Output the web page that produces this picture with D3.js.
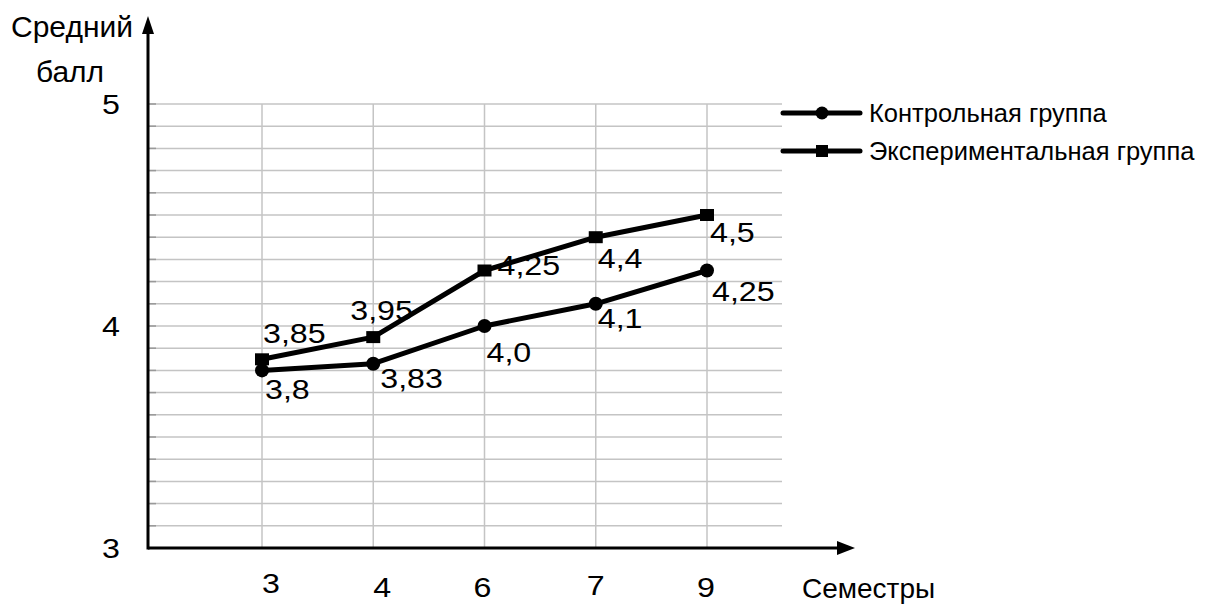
<!DOCTYPE html>
<html>
<head>
<meta charset="utf-8">
<script src="https://cdn.jsdelivr.net/npm/d3@7/dist/d3.min.js"></script>
<style>
  html, body { margin: 0; padding: 0; background: #fff; }
  svg text { font-family: "Liberation Sans", Arial, sans-serif; fill: #000; }
</style>
</head>
<body>
<svg id="chart" width="1207" height="605"></svg>
<script>
// Semesters and average scores
const semesters = ["3", "4", "6", "7", "9"];
const controlScores = [3.8, 3.83, 4.0, 4.1, 4.25];
const experimentalScores = [3.85, 3.95, 4.25, 4.4, 4.5];
const controlLabels = ["3,8", "3,83", "4,0", "4,1", "4,25"];
const experimentalLabels = ["3,85", "3,95", "4,25", "4,4", "4,5"];
const yTickValues = [3, 4, 5];
const seriesNames = ["Контрольная группа", "Экспериментальная группа"];

// Label placement (dx, baseline dy) relative to each point
const controlLabelOffsets = [[3, 29], [7, 24], [2, 36], [2, 24], [5, 30]];
const experimentalLabelOffsets = [[1, -16], [-23, -17], [13, 4], [2, 31], [3, 27]];
const xLabelShift = [[9, 45], [9, 49], [-2, 49], [0, 47], [-1, 49]];

const svg = d3.select("#chart");
const axisX = 148, axisY = 548, gridTop = 104, gridRight = 782;
const digitScale = 1.15;   // digits are drawn slightly wide
const digitSize = 28;

const x = d3.scalePoint().domain(semesters).range([262, 707]);
const y = d3.scaleLinear().domain([3, 5]).range([axisY, gridTop]);

// Horizontal gridlines every 0.1
const minorTicks = d3.range(31, 51).map(v => v / 10);
svg.append("g").selectAll("line").data(minorTicks).join("line")
  .attr("x1", axisX).attr("x2", gridRight)
  .attr("y1", d => y(d)).attr("y2", d => y(d))
  .attr("stroke", "#c4c4c4").attr("stroke-width", 1.5);
// small tick marks on the y axis
svg.append("g").selectAll("line").data(minorTicks).join("line")
  .attr("x1", axisX).attr("x2", axisX + 8)
  .attr("y1", d => y(d)).attr("y2", d => y(d))
  .attr("stroke", "#999").attr("stroke-width", 1.5);

// Vertical gridlines at each semester
svg.append("g").selectAll("line").data(semesters).join("line")
  .attr("x1", d => x(d)).attr("x2", d => x(d))
  .attr("y1", gridTop).attr("y2", axisY)
  .attr("stroke", "#c4c4c4").attr("stroke-width", 1.5);

// Axes with arrows
svg.append("line").attr("x1", axisX).attr("x2", 840).attr("y1", axisY).attr("y2", axisY)
  .attr("stroke", "#000").attr("stroke-width", 3);
svg.append("path").attr("d", `M855,${axisY} L837,${axisY - 7} L837,${axisY + 7} Z`).attr("fill", "#000");
svg.append("line").attr("x1", axisX).attr("x2", axisX).attr("y1", axisY + 1.5).attr("y2", 30)
  .attr("stroke", "#000").attr("stroke-width", 3);
svg.append("path").attr("d", `M${axisX},16 L${axisX - 6},34 L${axisX + 6},34 Z`).attr("fill", "#000");

// Helper for wide digit text
function digitText(g, px, py, anchor, str) {
  g.append("text")
    .attr("transform", `translate(${px},${py}) scale(${digitScale},1)`)
    .attr("text-anchor", anchor).attr("font-size", digitSize).text(str);
}

// Y tick labels
const yLabels = svg.append("g");
yTickValues.forEach(v => digitText(yLabels, 111, y(v) + 10, "middle", v));

// X tick labels
const xLabels = svg.append("g");
semesters.forEach((s, i) => digitText(xLabels, x(s) + xLabelShift[i][0], axisY + xLabelShift[i][1], "middle", s));

// Axis titles
svg.append("text").attr("x", 72).attr("y", 37).attr("text-anchor", "middle")
  .attr("font-size", 30).text("Средний");
svg.append("text").attr("x", 70).attr("y", 82).attr("text-anchor", "middle")
  .attr("font-size", 30).text("балл");
svg.append("text").attr("x", 802).attr("y", 598)
  .attr("font-size", 28).text("Семестры");

// Series lines
const line = d3.line().x((d, i) => x(semesters[i])).y(d => y(d));
[controlScores, experimentalScores].forEach(s => {
  svg.append("path").datum(s).attr("d", line)
    .attr("fill", "none").attr("stroke", "#000").attr("stroke-width", 5)
    .attr("stroke-linejoin", "round");
});

// Markers
svg.append("g").selectAll("circle").data(controlScores).join("circle")
  .attr("cx", (d, i) => x(semesters[i])).attr("cy", d => y(d)).attr("r", 7).attr("fill", "#000");
svg.append("g").selectAll("rect").data(experimentalScores).join("rect")
  .attr("x", (d, i) => x(semesters[i]) - 7).attr("y", d => y(d) - 6)
  .attr("width", 14).attr("height", 12).attr("fill", "#000");

// Value labels
const valueLabels = svg.append("g");
controlScores.forEach((v, i) => digitText(valueLabels,
  x(semesters[i]) + controlLabelOffsets[i][0], y(v) + controlLabelOffsets[i][1], "start", controlLabels[i]));
experimentalScores.forEach((v, i) => digitText(valueLabels,
  x(semesters[i]) + experimentalLabelOffsets[i][0], y(v) + experimentalLabelOffsets[i][1], "start", experimentalLabels[i]));

// Legend
const legend = svg.append("g");
seriesNames.forEach((name, i) => {
  const ly = 113 + i * 38;
  legend.append("line").attr("x1", 783).attr("x2", 860).attr("y1", ly).attr("y2", ly)
    .attr("stroke", "#000").attr("stroke-width", 5).attr("stroke-linecap", "round");
  if (i === 0) {
    legend.append("circle").attr("cx", 822).attr("cy", ly).attr("r", 6.5).attr("fill", "#000");
  } else {
    legend.append("rect").attr("x", 816).attr("y", ly - 6).attr("width", 12).attr("height", 12).attr("fill", "#000");
  }
  legend.append("text").attr("x", 869).attr("y", ly + 9)
    .attr("font-size", 25.5).text(name);
});
</script>
</body>
</html>
